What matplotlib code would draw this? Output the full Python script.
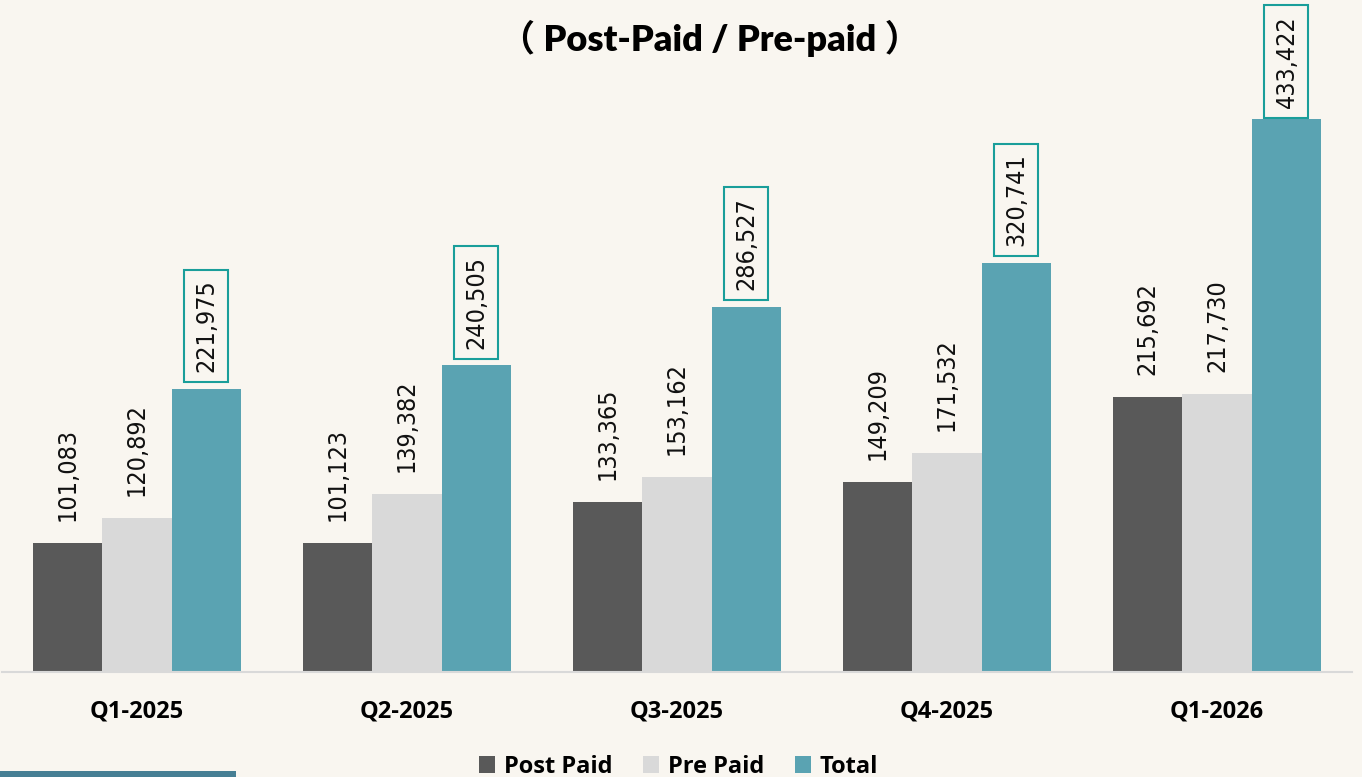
import matplotlib

matplotlib.use("Agg")

import matplotlib.pyplot as plt
from matplotlib.patches import Patch, Rectangle
import numpy as np

quarters = ["Q1-2025", "Q2-2025", "Q3-2025", "Q4-2025", "Q1-2026"]
post_paid = [101083, 101123, 133365, 149209, 215692]
pre_paid = [120892, 139382, 153162, 171532, 217730]
total = [221975, 240505, 286527, 320741, 433422]
series_names = ["Post Paid", "Pre Paid", "Total"]

BG = "#f9f6f0"
COLORS = ["#595959", "#d9d9d9", "#5aa3b2"]
BOX_EDGE = "#1a9e9a"

fig = plt.figure(figsize=(13.62, 7.77), dpi=100, facecolor=BG)
ax = fig.add_axes([2 / 1362, 105 / 777, 1350 / 1362, 672 / 777])
ax.set_facecolor(BG)

x = np.arange(len(quarters))
width = 0.2574
label_font = dict(family="DejaVu Sans", fontstretch="condensed", fontsize=18)

boxed = []
for i, (values, color) in enumerate(zip([post_paid, pre_paid, total], COLORS)):
    pos = x + (i - 1) * width
    ax.bar(pos, values, width=width, color=color, edgecolor="none")
    for px, v in zip(pos, values):
        if i == 2:
            bbox = dict(boxstyle="square,pad=0.4", facecolor="none", edgecolor=BOX_EDGE, linewidth=1.5)
            t = ax.annotate(f"{v:,}", (px, v), xytext=(0, 12), textcoords="offset points",
                            rotation=90, ha="center", va="bottom", color="#111111", bbox=bbox,
                            annotation_clip=False, **label_font)
            boxed.append(t)
        else:
            ax.annotate(f"{v:,}", (px, v), xytext=(0, 16), textcoords="offset points",
                        rotation=90, ha="center", va="bottom", color="#111111", **label_font)

ax.set_xlim(-0.5, len(quarters) - 0.5)
ax.set_ylim(0, 527100)
ax.set_yticks([])
for side in ["top", "left", "right"]:
    ax.spines[side].set_visible(False)
ax.spines["bottom"].set_color("#d9d9d9")
ax.spines["bottom"].set_linewidth(1.5)
ax.set_xticks(x)
ax.set_xticklabels(quarters, fontsize=17, fontweight="bold", family="Open Sans")
ax.tick_params(axis="x", length=0, pad=20)

fig.text(0.521, 0.951, "（ Post-Paid / Pre-paid ）", ha="center", va="center",
         fontsize=26, fontweight="heavy", family=["Lato", "Noto Sans CJK SC"])

handles = [Patch(facecolor=c, edgecolor="none") for c in COLORS]
fig.legend(handles, series_names, loc="center", bbox_to_anchor=(0.498, 1 - 767 / 777), ncol=3,
           frameon=False, handlelength=0.7, handleheight=0.7, handletextpad=0.35,
           columnspacing=1.3, prop=dict(family="Open Sans", weight="bold", size=17))

fig.patches.append(Rectangle((0, 0), 236 / 1362, 6 / 777, transform=fig.transFigure,
                             facecolor="#467f94", edgecolor="none"))

# boxed labels that would run off the top get pushed down (overlapping the bar, as in the source)
fig.canvas.draw()
renderer = fig.canvas.get_renderer()
limit = fig.bbox.height - 5
for t in boxed:
    top = t.get_bbox_patch().get_window_extent(renderer).y1
    if top > limit:
        t.xyann = (0, 12 - (top - limit) * 72 / fig.dpi)

fig.savefig("out.png", dpi=100, facecolor=BG)
